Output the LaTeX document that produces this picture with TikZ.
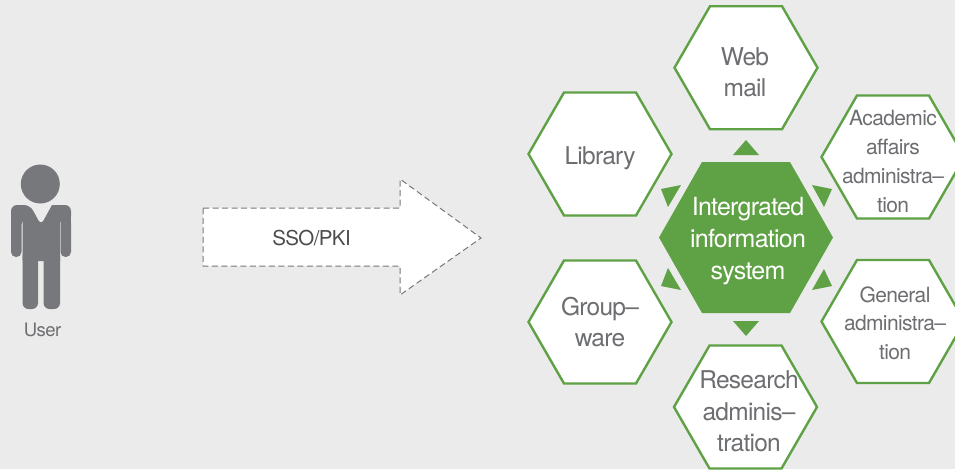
\documentclass[tikz,border=0pt]{standalone}
\usepackage{fontspec}
\setmainfont{TeX Gyre Heros}[LetterSpace=-3.0]
\definecolor{bgc}{HTML}{EBEBEB}
\definecolor{grn}{HTML}{5FA145}
\definecolor{txt}{HTML}{6D6E71}
\definecolor{prs}{HTML}{77787B}
\definecolor{dark}{HTML}{4D4D4F}
\tikzset{
  lbl/.style={align=center,text=txt,inner sep=0pt},
  big/.style={lbl,font=\fontsize{24.5}{31.5}\selectfont},
  mid/.style={lbl,font=\fontsize{21}{28.5}\selectfont},
  tri/.style={fill=grn,draw=none},
  hexline/.style={draw=grn,line width=2.4pt,fill=white,line join=miter},
}
\newcommand{\hexa}[3]{\draw[#3] (#1-71.5,#2) -- (#1-36,#2-61.5) -- (#1+36,#2-61.5) -- (#1+71.5,#2) -- (#1+36,#2+61.5) -- (#1-36,#2+61.5) -- cycle;}
\begin{document}
\begin{tikzpicture}[x=1pt,y=-1pt]
\useasboundingbox (0,0) rectangle (955,469);
\clip (0,0) rectangle (955,469);
\fill[bgc] (0,0) rectangle (955,469);
% person
\fill[prs] (40.3,184) circle (19.5);
\fill[prs] (11,222) [rounded corners=6pt] -- (11,205) -- (30,205) [sharp corners] -- (41,225) -- (52,205) [rounded corners=6pt] -- (71,205) -- (71,222) [sharp corners] -- cycle;
\fill[prs,rounded corners=5pt] (11,218) rectangle (21.5,257);
\fill[prs,rounded corners=5pt] (60.5,218) rectangle (71,257);
\fill[prs] (11,215) rectangle (21.5,224);
\fill[prs] (60.5,215) rectangle (71,224);
\fill[prs] (22.5,221) -- (39.2,221) -- (41,225) -- (42.8,221) -- (60,221) -- (60,261) -- (22.5,261) -- cycle;
\fill[prs,rounded corners=6pt] (22.5,250) rectangle (38,309);
\fill[prs,rounded corners=6pt] (43.5,250) rectangle (60,309);
\node[lbl,font=\fontsize{18.5}{20}\selectfont] (user) at (42.5,330) {User};
% arrow
\draw[fill=white,draw=prs,line width=1pt,dash pattern=on 6pt off 3.5pt] (203,208) -- (400,208) -- (400,179) -- (481,238) -- (400,295) -- (400,266) -- (203,266) -- cycle;
\node[lbl,text=dark,font=\fontsize{20.5}{22}\selectfont] (sso) at (311.5,238) {SSO/PKI};
% hexagons
\hexa{746}{67.7}{hexline}
\hexa{600}{154}{hexline}
\hexa{893}{157}{hexline}
\hexa{600}{322}{hexline}
\hexa{893}{321.5}{hexline}
\hexa{745.5}{407}{hexline}
\node[big] (web) at (745,72.5) {Web\\mail};
\node[big] (lib) at (600,158) {Library};
\node[mid,font=\fontsize{21}{29}\selectfont] (aca) at (893,161.5) {Academic\\affairs\\administra--\\tion};
\node[big] (grp) at (600,322) {Group--\\ware};
\node[mid] (gen) at (895,323) {General\\administra--\\tion};
\node[big] (res) at (749,411.5) {Research\\adminis--\\tration};
% centre
\fill[grn] (659,237.5) -- (702,162) -- (790,162) -- (833,237.5) -- (790,313) -- (702,313) -- cycle;
\node[align=center,text=white,inner sep=0pt,font=\fontsize{25}{32}\selectfont] (core) at (748,241) {Intergrated\\information\\system};
% triangles
\fill[tri] (746,140) -- (733,155) -- (759,155) -- cycle;
\fill[tri] (733,321) -- (759,321) -- (746,336) -- cycle;
\fill[tri] (681,185) -- (661,189) -- (668,207) -- cycle;
\fill[tri] (812,185) -- (832,189) -- (824,207) -- cycle;
\fill[tri] (668,268) -- (661,286) -- (681,290) -- cycle;
\fill[tri] (824,269) -- (832,286) -- (812,290) -- cycle;
\end{tikzpicture}
\end{document}
